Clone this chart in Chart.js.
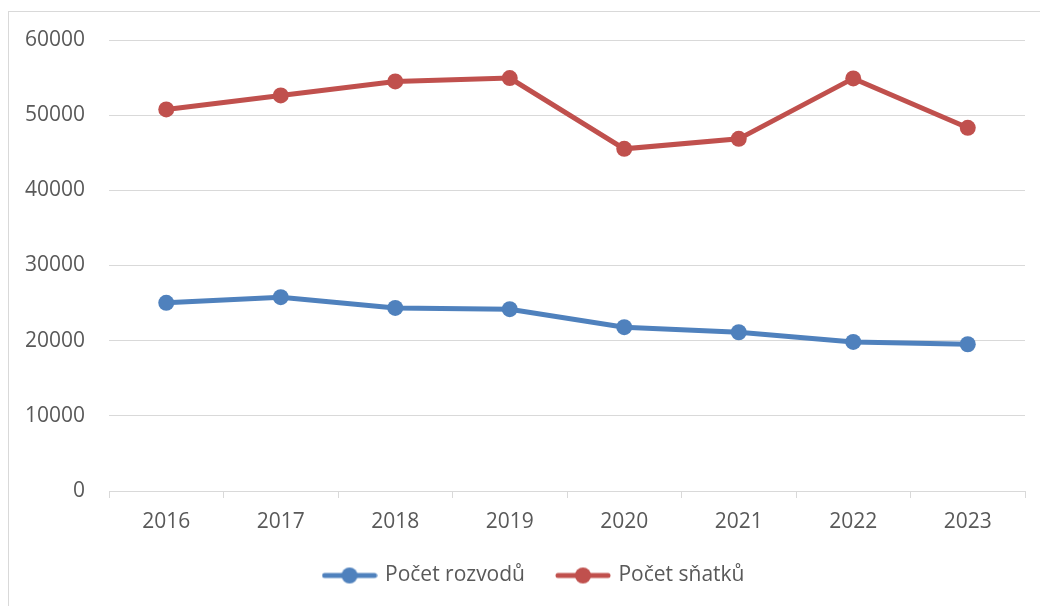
<!DOCTYPE html>
<html>
<head>
<meta charset="utf-8">
<script src="https://cdn.jsdelivr.net/npm/chart.js@4"></script>
<style>
  html, body { margin: 0; padding: 0; background: #fff; }
  #wrap { position: relative; width: 1040px; height: 606px; }
</style>
</head>
<body>
<div id="wrap"><canvas id="myChart" width="1040" height="606"></canvas></div>
<script>
// Data
const years = ['2016', '2017', '2018', '2019', '2020', '2021', '2022', '2023'];
const rozvody = [25030, 25790, 24360, 24190, 21790, 21120, 19830, 19520];
const snatky = [50760, 52630, 54490, 54930, 45520, 46850, 54890, 48320];
const seriesNames = ['Počet rozvodů', 'Počet sňatků'];
const seriesColors = ['#4f81bd', '#c0504d'];

const gridColor = '#d9d9d9';
const textColor = '#595959';
const fontFamily = "'Open Sans', 'Noto Sans', sans-serif";

// Legend icon: a short line with a dot in the middle
function makeIcon(color) {
    const c = document.createElement('canvas');
    c.width = 56;
    c.height = 18;
    const g = c.getContext('2d');
    g.strokeStyle = color;
    g.lineWidth = 5;
    g.lineCap = 'round';
    g.beginPath();
    g.moveTo(3, 9);
    g.lineTo(53, 9);
    g.stroke();
    g.fillStyle = color;
    g.beginPath();
    g.arc(28, 9, 8, 0, Math.PI * 2);
    g.fill();
    return c;
}
const icons = seriesColors.map(makeIcon);

// Light frame around the chart, partly running off the page
const framePlugin = {
    id: 'frame',
    beforeDraw(chart) {
        const ctx = chart.ctx;
        ctx.save();
        ctx.strokeStyle = gridColor;
        ctx.lineWidth = 1;
        ctx.strokeRect(8.5, 11.5, 1100, 700);
        ctx.restore();
    },
    // the legend sits a bit right of the plot centre in the original
    afterLayout(chart) {
        chart.legend.left += 22;
        chart.legend.right += 22;
    }
};

const data = {
    labels: years,
    datasets: [
        {
            label: seriesNames[0],
            data: rozvody,
            borderColor: seriesColors[0],
            backgroundColor: seriesColors[0],
            borderWidth: 5,
            pointRadius: 8,
            pointHoverRadius: 8,
            pointBorderWidth: 0,
            tension: 0
        },
        {
            label: seriesNames[1],
            data: snatky,
            borderColor: seriesColors[1],
            backgroundColor: seriesColors[1],
            borderWidth: 5,
            pointRadius: 8,
            pointHoverRadius: 8,
            pointBorderWidth: 0,
            tension: 0
        }
    ]
};

const config = {
    type: 'line',
    data: data,
    plugins: [framePlugin],
    options: {
        responsive: false,
        animation: false,
        layout: {
            padding: { left: 0, right: 15, top: 40, bottom: 10 }
        },
        scales: {
            x: {
                offset: true,
                grid: {
                    offset: true,
                    drawOnChartArea: false,
                    drawTicks: true,
                    tickLength: 7,
                    color: gridColor
                },
                border: { display: true, color: gridColor, width: 1 },
                ticks: {
                    color: textColor,
                    padding: 11,
                    font: { family: fontFamily, size: 21 }
                },
                afterFit(scale) { scale.height = 41; }
            },
            y: {
                min: 0,
                max: 60000,
                grid: {
                    color: gridColor,
                    drawTicks: false
                },
                border: { display: false },
                ticks: {
                    stepSize: 10000,
                    color: textColor,
                    padding: 24,
                    font: { family: fontFamily, size: 21 },
                    callback: value => String(value)
                },
                afterFit(scale) { scale.width = 109; }
            }
        },
        plugins: {
            tooltip: { enabled: false },
            legend: {
                position: 'bottom',
                labels: {
                    usePointStyle: true,
                    pointStyleWidth: 50,
                    padding: 33,
                    color: textColor,
                    font: { family: fontFamily, size: 21 },
                    generateLabels(chart) {
                        const items = Chart.defaults.plugins.legend.labels.generateLabels(chart);
                        items.forEach(item => {
                            item.pointStyle = icons[item.datasetIndex];
                        });
                        return items;
                    }
                }
            }
        }
    }
};

const ctx = document.getElementById('myChart').getContext('2d');
new Chart(ctx, config);
</script>
</body>
</html>
